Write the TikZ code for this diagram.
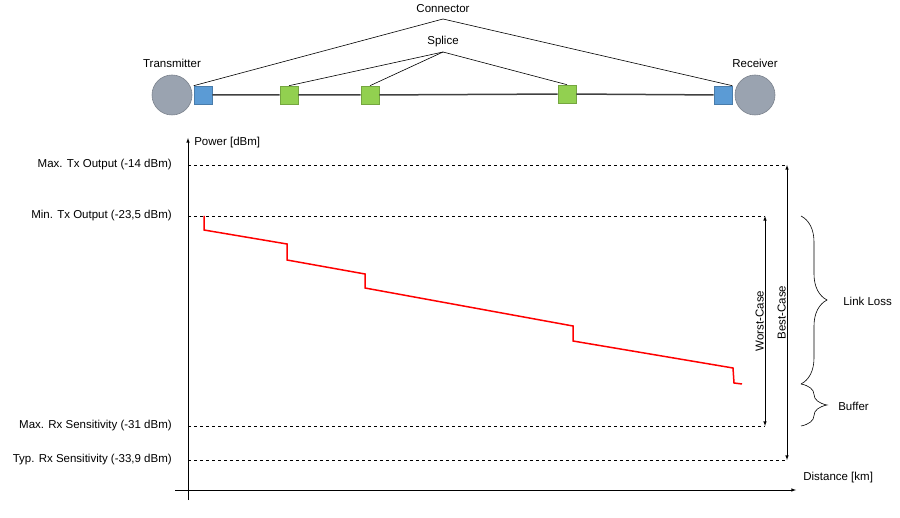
\documentclass[tikz,border=0pt]{standalone}
\usepackage{fontspec}
\setmainfont{Liberation Sans}
\usetikzlibrary{arrows,shapes,positioning,decorations.pathreplacing}
\definecolor{devgray}{HTML}{9AA3B0}
\definecolor{conblue}{HTML}{5B9BD5}
\definecolor{splgreen}{HTML}{92D050}
\tikzstyle{device}=[circle,fill=devgray,draw=devgray!80!black,minimum size=40pt,inner sep=0pt]
\tikzstyle{conn}=[rectangle,fill=conblue,draw=conblue!80!black,minimum size=18pt,inner sep=0pt]
\tikzstyle{splice}=[rectangle,fill=splgreen,draw=splgreen!80!black,minimum size=18pt,inner sep=0pt]
\tikzstyle{lbl}=[font=\fontsize{11.5}{13}\selectfont,inner sep=1pt]
\tikzstyle{level}=[dashed,semithick]

\begin{document}
\begin{tikzpicture}[>=latex,x=1pt,y=-1pt,semithick]
	\useasboundingbox (0,0) rectangle (900,518);
	%% link
	\node (tx) at (172,95) [device] {};
	\node (rx) at (755,95) [device] {};
	\node (c1) at (203,95) [conn] {};
	\node (c2) at (723,95) [conn] {};
	\node (s1) at (289,95) [splice] {};
	\node (s2) at (370,95) [splice] {};
	\node (s3) at (567,94) [splice] {};
	\draw [line width=1.5pt,black!75] (c1) -- (s1) -- (s2) -- (s3) -- (c2);
	\node (txl) at (172,63) [lbl] {Transmitter};
	\node (rxl) at (755,63) [lbl] {Receiver};
	\node (conl) at (443,9) [lbl] {Connector};
	\node (spll) at (443,42) [lbl] {Splice};
	\coordinate (cona) at (443,19);
	\coordinate (spla) at (443,52);
	\draw (cona) -- (c1.north west);
	\draw (cona) -- (c2.north east);
	\draw (spla) -- (s1.north);
	\draw (spla) -- (s2.north);
	\draw (spla) -- (s3.north);
	%% axes
	\coordinate (o) at (188,500);
	\coordinate (ytop) at (188,138);
	\coordinate (xl) at (175,490);
	\coordinate (xr) at (796,490);
	\draw [->] (o) -- (ytop);
	\draw [->] (xl) -- (xr);
	\node (pow) at (193,143) [lbl,anchor=west] {Power [dBm]};
	\node (dist) at (802,478) [lbl,anchor=west] {Distance [km]};
	%% levels
	\foreach \name/\y/\x/\txt in {maxtx/165/787/{Max. Tx Output (-14 dBm)},
	                              mintx/216/765/{Min. Tx Output (-23,5 dBm)},
	                              maxrx/426/765/{Max. Rx Sensitivity (-31 dBm)},
	                              typrx/460/787/{Typ. Rx Sensitivity (-33,9 dBm)}} {
	  \node (\name) at (173,\y) [lbl,anchor=east] {\txt};
	  \coordinate (\name r) at (\x,\y);
	  \draw [level] (188,\y) -- (\name r);
	}
	\draw [<->] (mintxr) -- node [lbl,rotate=90,above] {Worst-Case} (maxrxr);
	\draw [<->] (maxtxr) -- node [lbl,rotate=90,above] {Best-Case} (typrxr);
	%% braces
	\coordinate (b1) at (801,216);
	\coordinate (b2) at (801,384);
	\coordinate (b3) at (801,426);
	\draw [decorate,decoration={brace,amplitude=26pt}] (b1) -- (b2);
	\draw [decorate,decoration={brace,amplitude=26pt}] (b2) -- (b3);
	\node (loss) at (842,301) [lbl,anchor=west] {Link Loss};
	\node (buf) at (837,406) [lbl,anchor=west] {Buffer};
	%% power curve
	\draw [red,line width=1.5pt] (204,216) -- (204,230) -- (287,244) -- (287,260) -- (365,274)
	  -- (365,288) -- (573,326) -- (573,341) -- (733,368) -- (734,383) -- (742,384);
	%
\end{tikzpicture}
\end{document}
